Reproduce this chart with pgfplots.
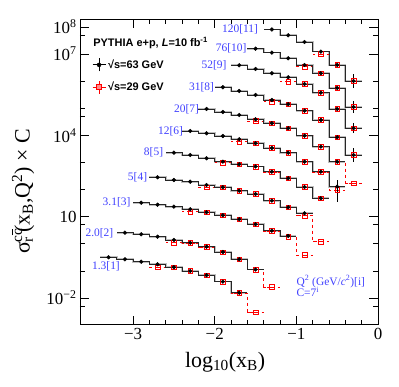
\documentclass[border=0pt]{standalone}
\usepackage{fontspec}
\setmainfont{Liberation Serif}
\newfontfamily\helv{Liberation Sans}
\usepackage{pgfplots}
\usepackage{pgfplotstable}
\pgfplotsset{compat=1.18}
\definecolor{lblue}{RGB}{64,64,255}

% columns: x, black (63 GeV) with rel. errors, red (29 GeV) with rel. errors
\pgfplotstableread{
x b bp bm r rp rm
-3.3 0.317 0 0 nan 0 0
-3.1 0.267 0 0 nan 0 0
-2.9 0.218 0 0 nan 0 0
-2.7 0.175 0 0 0.137 0 0
-2.5 0.136 0 0 0.134 0 0
-2.3 0.099 0 0 0.098 0 0
-2.1 0.069 0 0 0.068 0 0
-1.9 0.040 0 0 0.040 0 0
-1.7 0.0157 0 0 0.0155 0 0
-1.5 nan 0 0 0.0030 0 0
}\sA
\pgfplotstableread{
x b bp bm r rp rm
-3.1 2.56 0 0 nan 0 0
-2.9 2.23 0 0 nan 0 0
-2.7 1.82 0 0 nan 0 0
-2.5 1.38 0 0 1.10 0 0
-2.3 1.09 0 0 1.08 0 0
-2.1 0.78 0 0 0.77 0 0
-1.9 0.497 0 0 0.49 0 0
-1.7 0.267 0 0 0.265 0 0
-1.5 0.1125 0 0 0.110 0 0
-1.3 nan 0 0 0.0254 0 0
}\sB
\pgfplotstableread{
x b bp bm r rp rm
-2.9 32.7 0 0 nan 0 0
-2.7 27.6 0 0 nan 0 0
-2.5 23.3 0 0 nan 0 0
-2.3 18.7 0 0 15.2 0 0
-2.1 14.5 0 0 14.4 0 0
-1.9 11.2 0 0 11.1 0 0
-1.7 8.0 0 0 7.9 0 0
-1.5 5.23 0 0 5.2 0 0
-1.3 3.03 0 0 3.0 0 0
-1.1 1.94 0 0 1.85 0 0
-0.9 nan 0 0 0.385 0 0
}\sC
\pgfplotstableread{
x b bp bm r rp rm
-2.7 283 0 0 nan 0 0
-2.5 225 0 0 nan 0 0
-2.3 195 0 0 nan 0 0
-2.1 147 0 0 121 0 0
-1.9 121 0 0 120 0 0
-1.7 90.8 0 0 90 0 0
-1.5 68.5 0 0 68 0 0
-1.3 38.8 0 0 38.5 0 0
-1.1 22.1 0 0 22 0 0
-0.9 13.3 0 0 10.8 0 0
-0.7 nan 0 0 1.19 0 0
}\sD
\pgfplotstableread{
x b bp bm r rp rm
-2.5 2286 0 0 nan 0 0
-2.3 1880 0 0 nan 0 0
-2.1 1422 0 0 nan 0 0
-1.9 1064 0 0 977 0 0
-1.7 853 0 0 850 0 0
-1.5 708 0 0 700 0 0
-1.3 455 0 0 450 0 0
-1.1 260 0 0 258 0 0
-0.9 124 0 0 123 0 0
-0.7 47.5 0 0 47 0 0
}\sE
\pgfplotstableread{
x b bp bm r rp rm
-2.3 14450 0 0 nan 0 0
-2.1 11880 0 0 nan 0 0
-1.9 9440 0 0 nan 0 0
-1.7 7140 0 0 5820 0 0
-1.5 5080 0 0 5050 0 0
-1.3 3410 0 0 3400 0 0
-1.1 2286 0 0 2280 0 0
-0.9 1064 0 0 1060 0 0
-0.7 455 0 0 450 0 0
-0.5 127 0.78 0.72 96.2 0 0
}\sF
\pgfplotstableread{
x b bp bm r rp rm
-2.1 93550 0 0 nan 0 0
-1.9 72600 0 0 nan 0 0
-1.7 56200 0 0 nan 0 0
-1.5 39000 0 0 33800 0 0
-1.3 27800 0 0 27700 0 0
-1.1 18160 0 0 18100 0 0
-0.9 9690 0 0 9650 0 0
-0.7 3810 0 0 3800 0 0
-0.5 1064 0 0 1060 0 0
-0.3 nan 0 0 170 0 0
}\sG
\pgfplotstableread{
x b bp bm r rp rm
-1.9 5.92e5 0 0 nan 0 0
-1.7 4.32e5 0 0 nan 0 0
-1.5 3.08e5 0 0 nan 0 0
-1.3 2.01e5 0 0 1.74e5 0 0
-1.1 1.40e5 0 0 1.39e5 0 0
-0.9 8.11e4 0 0 8.08e4 0 0
-0.7 3.67e4 0 0 3.65e4 0 0
-0.5 8460 0 0 8420 0 0
-0.3 1880 0.82 0.45 1870 0.5 0.35
}\sH
\pgfplotstableread{
x b bp bm r rp rm
-1.7 3.83e6 0 0 nan 0 0
-1.5 2.80e6 0 0 nan 0 0
-1.3 1.94e6 0 0 nan 0 0
-1.1 1.38e6 0 0 9.51e5 0 0
-0.9 7.82e5 0 0 7.80e5 0 0
-0.7 3.73e5 0 0 3.72e5 0 0
-0.5 9.35e4 0 0 9.30e4 0 0
-0.3 1.82e4 0.51 0.34 1.80e4 0.5 0.33
}\sI
\pgfplotstableread{
x b bp bm r rp rm
-1.5 1.57e7 0 0 nan 0 0
-1.3 1.12e7 0 0 nan 0 0
-1.1 6.94e6 0 0 nan 0 0
-0.9 3.93e6 0 0 3.40e6 0 0
-0.7 1.94e6 0 0 1.93e6 0 0
-0.5 5.57e5 0 0 5.55e5 0 0
-0.3 1.11e5 0.66 0.40 1.10e5 0.6 0.38
}\sJ
\pgfplotstableread{
x b bp bm r rp rm
-1.3 8.02e7 0 0 nan 0 0
-1.1 4.90e7 0 0 nan 0 0
-0.9 2.77e7 0 0 nan 0 0
-0.7 1.22e7 0 0 1.00e7 0 0
-0.5 3.93e6 0 0 3.90e6 0 0
-0.3 1.01e6 0.78 0.44 1.00e6 0.7 0.42
}\sK

% one Q^2 bin: grey+black histogram, dashed red histogram, markers
\newcommand{\qbin}[1]{%
  \addplot[gray!50, line width=1.7bp, const plot mark mid, no marks, forget plot,
    error bars/.cd, x dir=both, x fixed=0.1, error mark=none,
    error bar style={gray!50, line width=1.7bp}] table[x=x,y=b] {#1};
  \addplot[red, dashed, line width=0.6bp, const plot mark mid, no marks, forget plot,
    error bars/.cd, x dir=both, x fixed=0.1, error mark=none,
    error bar style={red, dashed, line width=0.6bp}] table[x=x,y=r] {#1};
  \addplot[black!85, line width=0.55bp, const plot mark mid, no marks, forget plot,
    error bars/.cd, x dir=both, x fixed=0.1, error mark=none,
    error bar style={black!85, line width=0.55bp}] table[x=x,y=b] {#1};
  \addplot[red, only marks, mark=square, mark size=2.3bp, forget plot,
    mark options={solid, line width=0.6bp, fill=red!12},
    error bars/.cd, y dir=both, y explicit relative, error mark=none,
    error bar style={red, solid, line width=0.8bp}]
    table[x=x,y=r,y error plus=rp,y error minus=rm] {#1};
  \addplot[black, only marks, mark=*, mark size=1.9bp, forget plot,
    error bars/.cd, y dir=both, y explicit relative, error mark=none,
    error bar style={black, line width=0.8bp}]
    table[x=x,y=b,y error plus=bp,y error minus=bm] {#1};
}

\begin{document}
\begin{tikzpicture}
\begin{axis}[
    scale only axis,
    width=298bp, height=305bp,
    xmin=-3.65, xmax=0,
    ymode=log, ymin=1.05e-3, ymax=1.87e8,
    axis line style={line width=0.8bp},
    tick align=inside, xtick pos=both, ytick pos=both,
    xticklabel pos=bottom, yticklabel pos=left,
    major tick length=9bp, minor tick length=5bp,
    every tick/.style={black, line width=0.7bp},
    xtick={-3,-2,-1,0}, xticklabels={−3,−2,−1,0},
    minor x tick num=4,
    ytick={1e-2,10,1e4,1e7,1e8},
    yticklabels={10\textsuperscript{−2},10,10\textsuperscript{4},10\textsuperscript{7},10\textsuperscript{8}},
    minor ytick={5e-3,1e-1,1,5,1e2,1e3,5e4,1e5,1e6,5e7},
    tick label style={font=\fontsize{17}{17}\selectfont},
    xlabel={log\textsubscript{10}(x\textsubscript{B})},
    xlabel style={at={(rel axis cs:0.487,-0.123)}, anchor=center,
                  font=\fontsize{22}{22}\selectfont},
    ylabel={σ\rlap{\textsuperscript{c\rlap{\raisebox{0.62em}{\rule{0.42em}{0.06em}}}c}}\textsubscript{r}\,(x\textsubscript{B},Q\textsuperscript{2}) × C},
    ylabel style={at={(rel axis cs:-0.191,0.436)}, anchor=center,
                  font=\fontsize{22}{22}\selectfont},
    legend style={at={(rel axis cs:0.04,0.875)}, anchor=north west,
                  draw=none, fill=none, inner sep=0pt, row sep=8bp,
                  font=\helv\bfseries\fontsize{11}{13}\selectfont},
    legend cell align=left,
]
\qbin{\sA}
\qbin{\sB}
\qbin{\sC}
\qbin{\sD}
\qbin{\sE}
\qbin{\sF}
\qbin{\sG}
\qbin{\sH}
\qbin{\sI}
\qbin{\sJ}
\qbin{\sK}

\addlegendimage{legend image code/.code={
  \draw[black,line width=0.9bp] (0bp,0bp)--(13bp,0bp) (6.5bp,-6.5bp)--(6.5bp,6.5bp);
  \fill[black] (6.5bp,0bp) circle (2bp);}}
\addlegendentry{√s=63 GeV}
\addlegendimage{legend image code/.code={
  \draw[red,line width=0.9bp] (0bp,0bp)--(13bp,0bp) (6.5bp,-6.5bp)--(6.5bp,6.5bp);
  \draw[red,fill=red!45,line width=0.6bp] (4bp,-2.5bp) rectangle (9bp,2.5bp);}}
\addlegendentry{√s=29 GeV}

\node[anchor=west, inner sep=0pt, font=\helv\bfseries\fontsize{11}{13}\selectfont]
  at (rel axis cs:0.044,0.923) {PYTHIA e+p, \textit{L}=10 fb\textsuperscript{-1}};

\begin{scope}[every node/.style={anchor=east, inner sep=0pt, text=lblue,
    font=\fontsize{11.5}{13}\selectfont}]
\node at (axis cs:-1.468,8.0e7) {120[11]};
\node at (axis cs:-1.61,1.57e7) {76[10]};
\node at (axis cs:-1.854,3.83e6) {52[9]};
\node at (axis cs:-2.006,5.92e5) {31[8]};
\node at (axis cs:-2.19,9.3e4) {20[7]};
\node at (axis cs:-2.386,1.44e4) {12[6]};
\node at (axis cs:-2.63,2.3e3) {8[5]};
\node at (axis cs:-2.826,2.9e2) {5[4]};
\node at (axis cs:-3.03,3.3e1) {3.1[3]};
\node at (axis cs:-3.24,2.4) {2.0[2]};
\node at (axis cs:-3.16,0.143) {1.3[1]};
\end{scope}
\node[anchor=west, inner sep=0pt, text=lblue, font=\fontsize{11.5}{13}\selectfont]
  at (axis cs:-1.0,0.040) {Q\textsuperscript{2} (GeV/\textit{c}\textsuperscript{2})[i]};
\node[anchor=west, inner sep=0pt, text=lblue, font=\fontsize{11.5}{13}\selectfont]
  at (axis cs:-1.0,0.0165) {C=7\textsuperscript{i}};
\end{axis}
\pgfresetboundingbox
\path[use as bounding box] ([shift={(-80bp,-62.5bp)}]current axis.south west)
  rectangle ([shift={(21bp,19.5bp)}]current axis.north east);
\end{tikzpicture}
\end{document}
